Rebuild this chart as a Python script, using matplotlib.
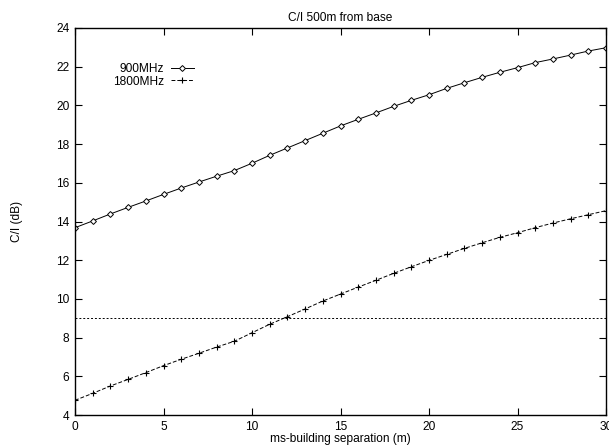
import numpy as np
import matplotlib
matplotlib.use('Agg')
import matplotlib.pyplot as plt

plt.rcParams['font.family'] = ['Liberation Sans', 'DejaVu Sans']

# separation distance (m)
sep = list(range(0, 31))

ci_900 = [13.68, 14.03, 14.39, 14.73, 15.06, 15.40, 15.73, 16.04, 16.34, 16.63,
          17.01, 17.42, 17.80, 18.18, 18.56, 18.94, 19.28, 19.61, 19.95, 20.26,
          20.55, 20.88, 21.17, 21.45, 21.71, 21.95, 22.21, 22.40, 22.60, 22.81,
          22.98]
ci_1800 = [4.76, 5.12, 5.50, 5.84, 6.19, 6.55, 6.88, 7.19, 7.51, 7.81,
           8.25, 8.69, 9.08, 9.48, 9.89, 10.25, 10.61, 10.96, 11.32, 11.66,
           11.99, 12.30, 12.61, 12.90, 13.18, 13.42, 13.68, 13.92, 14.14, 14.35,
           14.56]
threshold = 9

fs = 8.6

fig = plt.figure(figsize=(6.09, 4.47), dpi=100)
ax = fig.add_axes([75 / 609, 1 - 415 / 447, 531 / 609, 387 / 447])

ax.plot(sep, ci_900, color='black', lw=0.7, marker='D', ms=3.0,
        mfc='white', mec='black', mew=0.7, label='900MHz')
ax.plot(sep, ci_1800, color='black', lw=0.7, ls=(0, (4, 2)), marker='+',
        ms=5, mew=0.8, label='1800MHz')
ax.axhline(threshold, color='black', lw=0.7, ls=(0, (2, 2)))

ax.set_xlim(0, 30)
ax.set_ylim(4, 24)
ax.set_xticks(range(0, 31, 5))
ax.set_yticks(range(4, 25, 2))
ax.tick_params(direction='in', top=True, right=True, length=5, width=0.8,
               labelsize=fs, pad=4)
for s in ax.spines.values():
    s.set_linewidth(1.0)

ax.set_title('C/I 500m from base', fontsize=fs, pad=5)
ax.set_xlabel('ms-building separation (m)', fontsize=fs, labelpad=0)
ax.set_ylabel('C/I (dB)', fontsize=fs)
ax.yaxis.set_label_coords(-52 / 531, 0.5)

leg = ax.legend(loc='upper left', bbox_to_anchor=(0.061, 0.925), frameon=False,
                markerfirst=False, fontsize=fs, handlelength=1.9,
                handletextpad=0.55, labelspacing=0.05, borderpad=0)
for t in leg.get_texts():
    t.set_ha('right')

fig.savefig('out.png', dpi=100)
